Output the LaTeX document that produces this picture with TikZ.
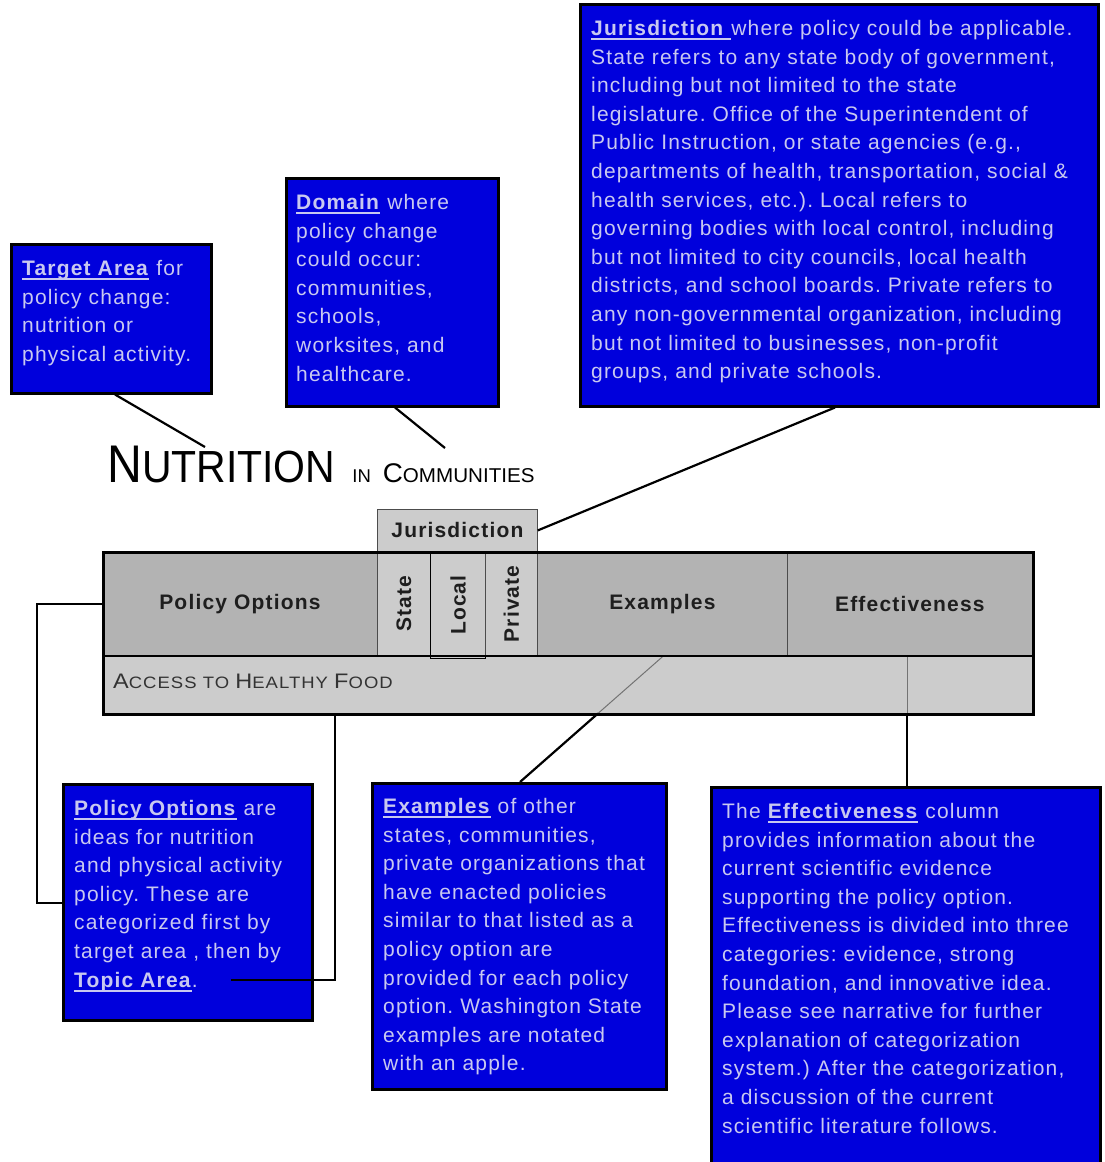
\documentclass[tikz,border=0pt]{standalone}
\usepackage{graphicx}
\usepackage{fontspec}
\setmainfont{Liberation Sans}[LetterSpace=5.6]
\newfontfamily\titlefont{Liberation Sans}
\usetikzlibrary{calc}
\definecolor{boxblue}{RGB}{0,0,220}
\definecolor{boxtext}{RGB}{200,200,240}
\definecolor{hdrgray}{RGB}{179,179,179}
\definecolor{rowgray}{RGB}{204,204,204}
\definecolor{hdrtext}{RGB}{30,30,30}
\AtBeginDocument{\frenchspacing}
\newsavebox\hlbox
\newcommand\hl[1]{\leavevmode\sbox\hlbox{\textbf{#1}}\rlap{\rule[-4.5pt]{\wd\hlbox}{1.8pt}}\usebox\hlbox}
\newcommand\fsz[2]{{\fontsize{#1}{#1}\selectfont #2}}
\tikzset{
  notebox/.style={draw=black, line width=2.5pt, fill=boxblue, anchor=north west, inner sep=0pt},
  notetext/.style={anchor=base west, inner sep=0pt, text=boxtext, font=\fontsize{21}{28.6}\selectfont},
  link/.style={draw=black, line width=2.2pt},
  faint/.style={draw=black!55, line width=1pt},
  hcell/.style={draw=black!70, line width=0.8pt, fill=hdrgray, anchor=north west, inner sep=0pt, text=hdrtext, font=\fontsize{21}{21}\selectfont\bfseries},
  jcell/.style={hcell, fill=rowgray},
  vlabel/.style={rotate=90, inner sep=0pt, text=hdrtext, font=\fontsize{21}{21}\selectfont\bfseries}
}
\begin{document}
\begin{tikzpicture}[x=1pt,y=-1pt]
\useasboundingbox[fill=white] (0,0) rectangle (1105,1162);

% ---------- note boxes ----------
\node[notebox, minimum width=200pt, minimum height=149pt] (tgt) at (10,243) {};
\node[notetext] (tgtT) at (22,275.5) {\parbox[t]{190pt}{\hl{Target Area} for\\policy change:\\nutrition or\\physical activity.}};

\node[notebox, minimum width=212pt, minimum height=228pt] (dom) at (285,177) {};
\node[notetext] (domT) at (296,209.5) {\parbox[t]{200pt}{\hl{Domain} where\\policy change\\could occur:\\communities,\\schools,\\worksites, and\\healthcare.}};

\node[notebox, minimum width=518pt, minimum height=402pt] (jur) at (579,3) {};
\node[notetext] (jurT) at (591,35.5) {\parbox[t]{500pt}{\hl{Jurisdiction }where policy could be applicable.\\State refers to any state body of government,\\including but not limited to the state\\legislature. Office of the Superintendent of\\Public Instruction, or state agencies (e.g.,\\departments of health, transportation, social \&\\health services, etc.). Local refers to\\governing bodies with local control, including\\but not limited to city councils, local health\\districts, and school boards. Private refers to\\any non-governmental organization, including\\but not limited to businesses, non-profit\\groups, and private schools.}};

\node[notebox, minimum width=249pt, minimum height=236pt] (polbox) at (62,783) {};
\node[notetext] (polT) at (74,815.5) {\parbox[t]{235pt}{\hl{Policy Options} are\\ideas for nutrition\\and physical activity\\policy. These are\\categorized first by\\target area , then by\\\hl{Topic Area}.}};

\node[notebox, minimum width=294pt, minimum height=306pt] (exbox) at (371,782) {};
\node[notetext] (exT) at (383,813.5) {\parbox[t]{280pt}{\hl{Examples} of other\\states, communities,\\private organizations that\\have enacted policies\\similar to that listed as a\\policy option are\\provided for each policy\\option. Washington State\\examples are notated\\with an apple.}};

\node[notebox, minimum width=389pt, minimum height=380pt] (efbox) at (710,786) {};
\node[notetext] (efT) at (722,818.5) {\parbox[t]{375pt}{The \hl{Effectiveness} column\\provides information about the\\current scientific evidence\\supporting the policy option.\\Effectiveness is divided into three\\categories: evidence, strong\\foundation, and innovative idea.\\Please see narrative for further\\explanation of categorization\\system.) After the categorization,\\a discussion of the current\\scientific literature follows.}};

% ---------- title ----------
\node[anchor=base west, inner sep=0pt, text=black] (title) at (107,482) {\titlefont\scalebox{0.91}[1]{\fsz{53}{N}\fsz{45}{UTRITION}}\hspace{17pt}\fsz{18.5}{IN}\hspace{12pt}\scalebox{1.03}[1]{\fsz{27}{C}\fsz{20}{OMMUNITIES}}};

% ---------- table ----------
\node[draw=none, fill=rowgray, anchor=north west, minimum width=930pt, minimum height=57pt, inner sep=0pt] (row) at (102,656) {};
\node[anchor=base west, inner sep=0pt, text=black!80] (rowT) at (113,688) {\scalebox{1.12}[1]{\fsz{21}{A}\fsz{16.5}{CCESS TO }\fsz{21}{H}\fsz{16.5}{EALTHY }\fsz{21}{F}\fsz{16.5}{OOD}}};

\node[hcell, minimum width=275pt, minimum height=105pt] (po) at (102,551) {Policy Options};
\node[jcell, minimum width=53pt, minimum height=105pt] (st) at (377,551) {};
\node[jcell, draw=black, line width=1.2pt, minimum width=55pt, minimum height=107pt] (lo) at (430,551) {};
\node[jcell, minimum width=52pt, minimum height=105pt] (pr) at (485,551) {};
\node[hcell, minimum width=250pt, minimum height=105pt] (exh) at (537,551) {Examples};
\node[hcell, minimum width=245pt, minimum height=105pt] (efh) at (787,551) {Effectiveness};
\node[jcell, minimum width=160pt, minimum height=42pt] (jh) at (377,509) {Jurisdiction};
\node[vlabel] (stL) at (st.center) {State};
\node[vlabel] (loL) at (lo.center) {Local};
\node[vlabel] (prL) at (pr.center) {Private};

\draw[faint] (exh.south) -- ([xshift=149pt]exbox.north west);
\draw[faint] ([xshift=120pt]efh.south west) -- ([xshift=197pt]efbox.north west);

\draw[black, line width=1.2pt] (row.north west) -- (row.north east);
\node[draw=black, line width=2.5pt, anchor=north west, minimum width=930pt, minimum height=162pt, inner sep=0pt] (tbl) at (102,551) {};

% ---------- connectors ----------
\coordinate (tgtEnd) at (205,447);
\coordinate (domEnd) at (445,448);
\coordinate (topicEnd) at (231,980);
\draw[link] ([xshift=105pt]tgt.south west) -- (tgtEnd);
\draw[link] ([xshift=110pt]dom.south west) -- (domEnd);
\draw[link] ([xshift=256pt]jur.south west) -- (jh.east);
\draw[link] (po.west) -- ++(-65,0) |- ([yshift=-120pt]polbox.north west);
\draw[link] ([xshift=233pt]row.south west) |- (topicEnd);
\draw[link] ([xshift=149pt]exbox.north west) -- ($([xshift=149pt]exbox.north west)!0.548!(exh.south)$);
\draw[link] ([xshift=197pt]efbox.north west) -- ([xshift=805pt]row.south west);
\end{tikzpicture}
\end{document}
